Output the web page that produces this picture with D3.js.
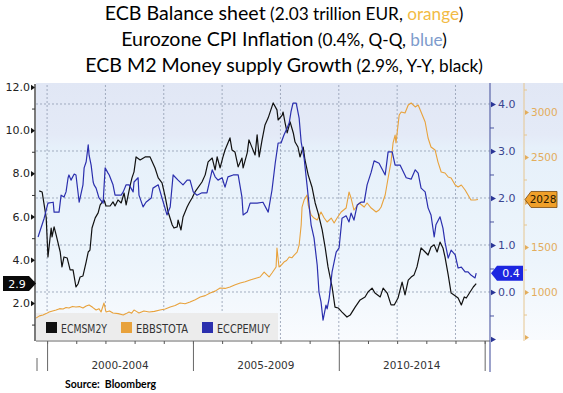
<!DOCTYPE html>
<html><head><meta charset="utf-8">
<script src="https://cdn.jsdelivr.net/npm/d3@7"></script>
<style>body{margin:0;background:#fff}svg{display:block}</style>
</head><body><svg id="c" width="563" height="393"></svg>
<script>
// ---------- DATA ----------
// ECB M2 money supply growth, % Y-Y  [year, value]  (left axis, black)
const m2Growth = [[1999.73,7.19],[1999.83,7.14],[1999.97,5.94],[2000.03,4.13],[2000.14,5.47],[2000.17,5.06],[2000.24,5.52],[2000.31,5.15],[2000.45,4.36],[2000.51,3.67],[2000.58,4.13],[2000.69,4.08],[2000.79,3.53],[2000.89,3.53],[2000.99,2.74],[2001.06,2.88],[2001.13,3.20],[2001.23,3.25],[2001.34,3.90],[2001.41,4.36],[2001.47,4.45],[2001.54,5.47],[2001.65,5.94],[2001.75,6.17],[2001.82,6.54],[2001.95,6.77],[2002.02,6.49],[2002.16,6.49],[2002.26,6.68],[2002.33,6.49],[2002.43,6.77],[2002.54,6.63],[2002.64,7.09],[2002.71,6.54],[2002.85,7.46],[2002.91,7.79],[2002.98,8.07],[2003.05,8.76],[2003.19,8.62],[2003.36,8.76],[2003.53,8.76],[2003.70,8.25],[2003.81,7.79],[2003.94,7.56],[2004.05,6.91],[2004.15,6.21],[2004.29,5.61],[2004.35,5.47],[2004.46,5.52],[2004.49,5.84],[2004.59,5.38],[2004.66,5.98],[2004.80,6.44],[2004.87,6.63],[2004.97,6.86],[2005.07,7.14],[2005.31,7.60],[2005.42,7.93],[2005.52,8.53],[2005.66,8.71],[2005.76,8.16],[2005.83,8.76],[2005.93,8.25],[2006.03,8.76],[2006.10,9.08],[2006.27,9.64],[2006.34,9.08],[2006.44,8.99],[2006.55,8.30],[2006.68,8.71],[2006.72,8.25],[2006.86,8.95],[2006.92,9.55],[2007.03,9.18],[2007.13,8.85],[2007.20,9.78],[2007.27,8.76],[2007.37,9.55],[2007.47,10.24],[2007.58,10.57],[2007.75,11.26],[2007.88,10.94],[2007.92,10.47],[2008.06,10.70],[2008.09,10.84],[2008.16,10.33],[2008.23,9.87],[2008.33,10.38],[2008.44,9.87],[2008.50,9.45],[2008.60,9.22],[2008.67,8.76],[2008.78,9.22],[2008.84,8.62],[2008.95,7.93],[2009.08,7.37],[2009.19,6.63],[2009.29,6.17],[2009.43,5.38],[2009.53,4.59],[2009.63,3.67],[2009.77,2.74],[2009.87,1.81],[2009.98,1.77],[2010.11,1.58],[2010.28,1.35],[2010.39,1.44],[2010.56,1.81],[2010.73,2.14],[2010.90,2.28],[2011.00,2.51],[2011.14,2.69],[2011.24,2.46],[2011.42,2.28],[2011.52,2.69],[2011.66,2.46],[2011.79,1.91],[2011.90,1.91],[2012.03,2.23],[2012.17,2.97],[2012.27,2.37],[2012.38,3.06],[2012.48,3.20],[2012.58,3.30],[2012.68,3.67],[2012.82,4.55],[2012.96,4.36],[2013.06,4.22],[2013.16,4.59],[2013.27,4.69],[2013.37,4.36],[2013.47,4.82],[2013.57,4.55],[2013.64,4.13],[2013.75,3.30],[2013.85,2.46],[2013.95,2.37],[2014.09,2.23],[2014.20,1.91],[2014.30,2.28],[2014.37,2.23],[2014.50,2.51],[2014.61,2.74],[2014.71,2.90]];

// Eurozone CPI inflation, %  [year, value]  (blue axis)
const cpiInflation = [[1999.69,1.17],[1999.90,1.57],[2000.03,1.89],[2000.21,1.91],[2000.24,1.70],[2000.41,1.70],[2000.48,2.06],[2000.58,2.02],[2000.65,2.13],[2000.72,2.43],[2000.75,2.49],[2000.82,2.38],[2000.93,2.51],[2000.99,2.49],[2001.10,1.91],[2001.23,2.28],[2001.27,2.64],[2001.34,2.77],[2001.41,3.13],[2001.44,2.91],[2001.51,2.70],[2001.58,2.34],[2001.61,2.28],[2001.68,2.21],[2001.78,2.00],[2001.92,1.89],[2001.99,2.64],[2002.09,2.53],[2002.13,2.49],[2002.26,2.28],[2002.33,2.06],[2002.54,2.06],[2002.61,2.13],[2002.71,2.28],[2002.81,2.28],[2002.95,2.13],[2002.98,2.34],[2003.12,2.43],[2003.15,2.06],[2003.29,1.81],[2003.39,1.91],[2003.57,2.00],[2003.63,2.21],[2003.81,2.28],[2003.94,2.00],[2004.11,1.64],[2004.22,1.81],[2004.32,2.49],[2004.49,2.38],[2004.66,2.28],[2004.80,2.38],[2004.90,2.38],[2005.01,2.13],[2005.14,2.06],[2005.31,2.11],[2005.48,2.11],[2005.66,2.60],[2005.76,2.45],[2005.86,2.38],[2006.00,2.43],[2006.10,2.23],[2006.20,2.45],[2006.38,2.49],[2006.55,2.49],[2006.68,2.02],[2006.72,1.64],[2006.86,1.70],[2006.96,1.89],[2007.20,1.89],[2007.40,1.91],[2007.58,1.70],[2007.71,2.17],[2007.82,2.74],[2007.92,3.17],[2008.02,3.17],[2008.12,3.34],[2008.23,3.49],[2008.30,3.60],[2008.36,3.83],[2008.43,4.02],[2008.54,4.02],[2008.64,3.70],[2008.71,3.19],[2008.81,2.85],[2008.91,2.28],[2009.05,1.43],[2009.15,1.15],[2009.26,0.57],[2009.32,0.00],[2009.39,-0.21],[2009.46,-0.60],[2009.56,-0.28],[2009.60,-0.36],[2009.67,-0.13],[2009.77,0.43],[2009.91,0.85],[2010.01,0.94],[2010.11,1.57],[2010.25,1.62],[2010.35,1.49],[2010.42,1.68],[2010.52,1.53],[2010.63,1.85],[2010.76,1.91],[2010.87,1.91],[2010.97,2.28],[2011.11,2.55],[2011.21,2.79],[2011.38,2.74],[2011.59,2.49],[2011.69,2.98],[2011.83,2.98],[2011.93,2.70],[2012.10,2.70],[2012.31,2.43],[2012.48,2.40],[2012.62,2.60],[2012.72,2.53],[2012.82,2.21],[2012.96,2.13],[2013.06,1.79],[2013.16,1.64],[2013.27,1.17],[2013.33,1.43],[2013.47,1.60],[2013.57,1.36],[2013.64,1.06],[2013.75,0.72],[2013.85,0.89],[2013.99,0.79],[2014.09,0.51],[2014.20,0.53],[2014.33,0.43],[2014.43,0.43],[2014.53,0.36],[2014.67,0.30],[2014.71,0.40]];

// ECB balance sheet, bn EUR  [year, value]  (orange axis)
const balanceSheet = [[1999.62,711],[1999.74,735],[1999.86,744],[1999.97,760],[2000.07,778],[2000.19,790],[2000.31,800],[2000.43,815],[2000.55,811],[2000.65,828],[2000.75,822],[2000.87,840],[2000.99,833],[2001.11,838],[2001.23,822],[2001.34,845],[2001.44,856],[2001.56,830],[2001.68,800],[2001.78,815],[2001.85,778],[2001.95,878],[2002.02,778],[2002.14,790],[2002.26,767],[2002.44,760],[2002.61,744],[2002.71,760],[2002.81,778],[2002.90,765],[2002.98,800],[2003.06,785],[2003.15,767],[2003.32,790],[2003.50,778],[2003.68,785],[2003.87,800],[2004.05,812],[2004.22,833],[2004.39,850],[2004.56,878],[2004.73,870],[2004.90,889],[2005.08,915],[2005.25,944],[2005.42,960],[2005.59,989],[2005.76,1010],[2005.93,1044],[2006.10,1040],[2006.27,1056],[2006.45,1080],[2006.62,1100],[2006.79,1115],[2006.96,1133],[2007.13,1150],[2007.30,1167],[2007.44,1222],[2007.61,1167],[2007.71,1211],[2007.85,1278],[2007.88,1489],[2007.95,1278],[2008.03,1300],[2008.12,1333],[2008.21,1350],[2008.30,1389],[2008.39,1380],[2008.47,1411],[2008.57,1444],[2008.64,1522],[2008.71,1744],[2008.74,1944],[2008.81,2022],[2008.91,2078],[2008.95,1967],[2009.05,1856],[2009.15,1822],[2009.26,1800],[2009.39,1889],[2009.50,1822],[2009.60,1778],[2009.74,1822],[2009.84,1767],[2009.94,1822],[2010.08,1889],[2010.25,1933],[2010.35,2111],[2010.42,2044],[2010.52,1911],[2010.70,1989],[2010.87,1944],[2010.97,1989],[2011.11,1933],[2011.28,1889],[2011.38,1911],[2011.45,1944],[2011.59,2078],[2011.69,2267],[2011.79,2444],[2011.86,2656],[2011.93,2744],[2011.96,2656],[2012.07,2967],[2012.14,3000],[2012.27,2989],[2012.38,3078],[2012.48,3100],[2012.62,3056],[2012.72,3078],[2012.82,3000],[2012.96,2889],[2013.06,2711],[2013.16,2611],[2013.30,2578],[2013.40,2444],[2013.51,2333],[2013.64,2322],[2013.75,2278],[2013.85,2267],[2013.99,2189],[2014.09,2167],[2014.20,2189],[2014.33,2133],[2014.43,2078],[2014.53,2022],[2014.67,2022],[2014.77,2028]];

const lastM2 = 2.9, lastCpi = 0.4, lastBalance = 2028;
const leftTicks = [2, 4, 6, 8, 10, 12];
const leftMinor = [1, 3, 5, 7, 9, 11];
const blueTicks = [0, 1, 2, 3, 4];
const blueMinor = [-0.5, 0.5, 1.5, 2.5, 3.5];
const orangeTicks = [1000, 1500, 2000, 2500, 3000];
const orangeMinor = [750, 1250, 1750, 2250, 2750, 3250];
const gridYears = [2000, 2002, 2004, 2006, 2008, 2010, 2012, 2014];
const yearTicks = [2000,2001,2002,2003,2004,2005,2006,2007,2008,2009,2010,2011,2012,2013,2014,2015];
const periodBounds = [2000, 2005, 2010, 2015];
const periodLabels = ["2000-2004", "2005-2009", "2010-2014"];
const legendNames = ["ECMSM2Y", "EBBSTOTA", "ECCPEMUY"];
const seriesColors = ["#111111", "#e8a23c", "#2b2fae"];

// ---------- LAYOUT ----------
const W = 563, H = 393;
const P = {l: 36, r: 487, t: 85, b: 339};
const svg = d3.select("#c");
const x = d3.scaleLinear().domain([1999.62, 2015.08]).range([P.l, P.r]);
const yL = d3.scaleLinear().domain([0.333, 12.09]).range([P.b, P.t]);
const yB = d3.scaleLinear().domain([-1, 4.404]).range([P.b, P.t]);
const yO = d3.scaleLinear().domain([478, 3300]).range([P.b, P.t]);

const defs = svg.append("defs");
const grad = defs.append("linearGradient").attr("id", "bg").attr("x1", 0).attr("y1", 0).attr("x2", 0).attr("y2", 1);
[[0, "#e1e7f5"], [0.2, "#e4eaf7"], [0.25, "#e6f0fa"], [0.7, "#edf5fc"], [1, "#f9fbfe"]]
  .forEach(s => grad.append("stop").attr("offset", s[0]).attr("stop-color", s[1]));
defs.append("clipPath").attr("id", "clip").append("rect")
  .attr("x", P.l).attr("y", P.t).attr("width", P.r - P.l).attr("height", P.b - P.t + 2);

svg.append("rect").attr("x", P.l).attr("y", P.t - 2).attr("width", W - P.l).attr("height", P.b - P.t + 3).attr("fill", "url(#bg)");

// gridlines
const grid = svg.append("g").attr("stroke", "#8f9bb0").attr("stroke-width", 0.8).attr("stroke-dasharray", "2,2");
grid.selectAll(".hg").data(blueTicks).join("line")
  .attr("x1", P.l).attr("x2", 490).attr("y1", d => yB(d)).attr("y2", d => yB(d));
grid.selectAll(".vg").data(gridYears).join("line")
  .attr("x1", d => x(d)).attr("x2", d => x(d)).attr("y1", P.t).attr("y2", P.b);

// legend box
const lg = svg.append("g");
lg.append("rect").attr("x", P.l).attr("y", 313).attr("width", 242).attr("height", 27).attr("fill", "#ececec");
const legX = [46, 121, 202];
const legW = [46, 52, 53];
legendNames.forEach((n, i) => {
  lg.append("rect").attr("x", legX[i]).attr("y", 322).attr("width", 11).attr("height", 11).attr("fill", seriesColors[i]);
  lg.append("text").attr("x", legX[i] + 15).attr("y", 333).attr("font-family", "DejaVu Sans").attr("font-size", 11.5)
    .attr("fill", "#333").attr("textLength", legW[i]).attr("lengthAdjust", "spacingAndGlyphs").text(n);
});

// series
const lines = svg.append("g").attr("clip-path", "url(#clip)").attr("fill", "none").attr("stroke-linejoin", "round");
lines.append("path").datum(balanceSheet).attr("stroke", seriesColors[1]).attr("stroke-width", 1.1)
  .attr("d", d3.line().x(d => x(d[0])).y(d => yO(d[1])));
lines.append("path").datum(m2Growth).attr("stroke", seriesColors[0]).attr("stroke-width", 1.2)
  .attr("d", d3.line().x(d => x(d[0])).y(d => yL(d[1])));
lines.append("path").datum(cpiInflation).attr("stroke", seriesColors[2]).attr("stroke-width", 1.2)
  .attr("d", d3.line().x(d => x(d[0])).y(d => yB(d[1])));

// x axis
const xa = svg.append("g").attr("transform", `translate(0,${P.b + 2})`);
xa.append("line").attr("x1", P.l).attr("x2", P.r + 3).attr("stroke", "#666").attr("stroke-width", 1);
xa.append("g").call(d3.axisBottom(x).tickValues(yearTicks).tickSize(3).tickFormat(""))
  .call(g => { g.select(".domain").remove(); g.selectAll("line").attr("stroke", "#555"); });
xa.append("g").call(d3.axisBottom(x).tickValues(periodBounds).tickSize(30).tickFormat(""))
  .call(g => { g.select(".domain").remove(); g.selectAll("line").attr("stroke", "#666"); });
xa.append("line").attr("x1", 37).attr("x2", 37).attr("y1", 17).attr("y2", 30).attr("stroke", "#666");
xa.selectAll(".pl").data(periodLabels).join("text")
  .attr("x", (d, i) => x((periodBounds[i] + periodBounds[i + 1]) / 2)).attr("y", 28)
  .attr("text-anchor", "middle").attr("font-family", "DejaVu Sans").attr("font-size", 10.5).attr("fill", "#333").text(d => d);

// left axis
const tri = "M-4,-2.8L0,0L-4,2.8Z";
const al = svg.append("g").attr("transform", "translate(35,0)");
al.append("line").attr("y1", P.t - 1).attr("y2", P.b + 2).attr("stroke", "#222").attr("stroke-width", 1.2);
al.append("g").call(d3.axisLeft(yL).tickValues(leftMinor).tickSize(3).tickFormat(""))
  .call(g => { g.select(".domain").remove(); g.selectAll("line").attr("stroke", "#333"); });
al.append("g").call(d3.axisLeft(yL).tickValues(leftTicks).tickSize(0).tickPadding(5).tickFormat(d3.format(".1f")))
  .call(g => {
    g.select(".domain").remove();
    g.selectAll("text").attr("font-family", "DejaVu Sans").attr("font-size", 11).attr("fill", "#222");
    g.selectAll(".tick").append("path").attr("d", tri).attr("fill", "#111");
  });

// blue axis
const triR = "M1,-2.8L6,0L1,2.8Z";
const ab = svg.append("g").attr("transform", "translate(490,0)");
ab.append("line").attr("y1", P.t - 2).attr("y2", 372).attr("stroke", "#5a64a8").attr("stroke-width", 1.2);
ab.append("g").call(d3.axisRight(yB).tickValues(blueMinor).tickSize(4).tickFormat(""))
  .call(g => { g.select(".domain").remove(); g.selectAll("line").attr("stroke", "#4a55a0"); });
ab.append("g").call(d3.axisRight(yB).tickValues(blueTicks.concat([-1])).tickSize(0).tickPadding(8).tickFormat(d => d < 0 ? "" : d3.format(".1f")(d)))
  .call(g => {
    g.select(".domain").remove();
    g.selectAll("text").attr("font-family", "DejaVu Sans").attr("font-size", 11).attr("fill", "#3a4590");
    g.selectAll(".tick").append("path").attr("d", triR).attr("fill", "#2a3596");
  });

// orange axis (the 2000 label sits under the last-value marker, as in the source)
const ao = svg.append("g").attr("transform", "translate(524,0)");
ao.append("line").attr("y1", P.t - 2).attr("y2", P.b + 2).attr("stroke", "#e6c690").attr("stroke-width", 1);
ao.append("g").call(d3.axisRight(yO).tickValues(orangeMinor).tickSize(3).tickFormat(""))
  .call(g => { g.select(".domain").remove(); g.selectAll("line").attr("stroke", "#e6c690"); });
ao.append("g").call(d3.axisRight(yO).tickValues(orangeTicks.concat([500])).tickSize(0).tickPadding(7)
    .tickFormat(d => (d < 1000 || d === 2000) ? "" : d3.format("d")(d)))
  .call(g => {
    g.select(".domain").remove();
    g.selectAll("text").attr("font-family", "DejaVu Sans").attr("font-size", 10.5).attr("fill", "#e3ad5c");
    g.selectAll(".tick").append("path").attr("d", "M1,-2.5L5,0L1,2.5Z").attr("fill", "#e3ad5c");
  });

// last-value markers
const mk = svg.append("g").attr("font-family", "DejaVu Sans").attr("font-size", 11);
const yM = yL(lastM2);
mk.append("path").attr("d", `M3,${yM - 7.5}H29L36,${yM}L29,${yM + 7.5}H3Z`).attr("fill", "#0a0a0a");
mk.append("text").attr("x", 17).attr("y", yM + 4).attr("text-anchor", "middle").attr("fill", "#fff").text(d3.format(".1f")(lastM2));
const yC = yB(lastCpi);
mk.append("path").attr("d", `M491,${yC}L497,${yC - 7.5}H523V${yC + 7.5}H497Z`).attr("fill", "#1c26e0");
mk.append("text").attr("x", 511).attr("y", yC + 4).attr("text-anchor", "middle").attr("fill", "#fff").text(d3.format(".1f")(lastCpi));
const yOv = yO(lastBalance);
mk.append("path").attr("d", `M525,${yOv}L531,${yOv - 8}H557V${yOv + 8}H531Z`).attr("fill", "#f0a02a").attr("stroke", "#7a4a10").attr("stroke-width", 0.8);
mk.append("text").attr("x", 543).attr("y", yOv + 4).attr("text-anchor", "middle").attr("fill", "#2a1800").attr("font-size", 10.5).text(d3.format("d")(lastBalance));

// titles
const big = 19.6, small = 17.2;
const titles = [
  [["ECB Balance sheet", big, "#000"], [" (2.03 trillion EUR, ", small, "#000"], ["orange", small, "#f2bb45"], [")", small, "#000"]],
  [["Eurozone CPI Inflation", big, "#000"], [" (0.4%, Q-Q, ", small, "#000"], ["blue", small, "#7d9bcc"], [")", small, "#000"]],
  [["ECB M2 Money supply Growth", big, "#000"], [" (2.9%, Y-Y, ", small, "#000"], ["black", small, "#000"], [")", small, "#000"]]
];
const tBase = [20, 46, 72];
titles.forEach((parts, i) => {
  const t = svg.append("text").attr("x", 284).attr("y", tBase[i]).attr("text-anchor", "middle").attr("font-family", "Lato");
  parts.forEach(p => t.append("tspan").attr("font-size", p[1]).attr("fill", p[2]).text(p[0]));
});

svg.append("text").attr("x", 65).attr("y", 388).attr("font-family", "Lato").attr("font-weight", "bold")
  .attr("font-size", 10.5).attr("fill", "#000").attr("xml:space", "preserve").text("Source:  Bloomberg");
</script></body></html>
